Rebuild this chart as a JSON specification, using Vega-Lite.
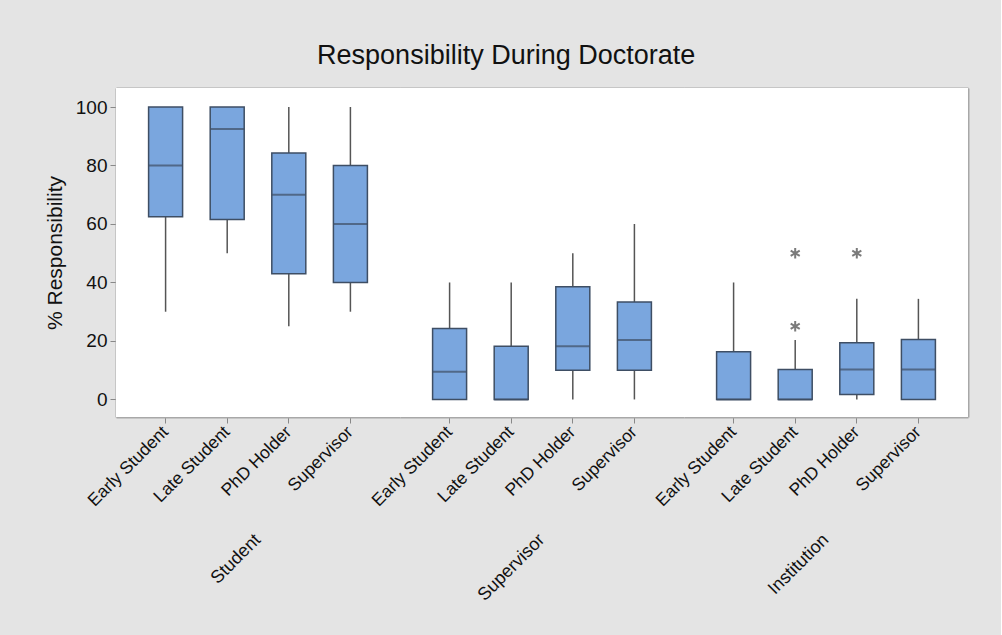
{
  "$schema": "https://vega.github.io/schema/vega-lite/v6.json",
  "background": "#e4e4e4",
  "padding": {"left": 44, "top": 42, "right": 33, "bottom": 40},
  "title": {"text": "Responsibility During Doctorate", "fontSize": 27, "font": "Liberation Sans", "fontWeight": "normal", "color": "#111111", "anchor": "middle", "frame": "bounds", "offset": 18},
  "data": {"values": [
    {"kind": "box", "group": "Student", "role": "Early Student", "lower": 30, "q1": 62.5, "median": 80, "q3": 100, "upper": 100},
    {"kind": "box", "group": "Student", "role": "Late Student", "lower": 50, "q1": 61.5, "median": 92.5, "q3": 100, "upper": 100},
    {"kind": "box", "group": "Student", "role": "PhD Holder", "lower": 25, "q1": 43, "median": 70, "q3": 84.3, "upper": 100},
    {"kind": "box", "group": "Student", "role": "Supervisor", "lower": 30, "q1": 40, "median": 60, "q3": 80, "upper": 100},
    {"kind": "box", "group": "Supervisor", "role": "Early Student", "lower": 0, "q1": 0, "median": 9.5, "q3": 24.3, "upper": 40},
    {"kind": "box", "group": "Supervisor", "role": "Late Student", "lower": 0, "q1": 0, "median": 0, "q3": 18.2, "upper": 40},
    {"kind": "box", "group": "Supervisor", "role": "PhD Holder", "lower": 0, "q1": 10, "median": 18.2, "q3": 38.5, "upper": 50},
    {"kind": "box", "group": "Supervisor", "role": "Supervisor", "lower": 0, "q1": 10, "median": 20.3, "q3": 33.3, "upper": 60},
    {"kind": "box", "group": "Institution", "role": "Early Student", "lower": 0, "q1": 0, "median": 0, "q3": 16.3, "upper": 40},
    {"kind": "box", "group": "Institution", "role": "Late Student", "lower": 0, "q1": 0, "median": 0, "q3": 10.2, "upper": 20.3},
    {"kind": "box", "group": "Institution", "role": "PhD Holder", "lower": 0, "q1": 1.7, "median": 10.2, "q3": 19.4, "upper": 34.4},
    {"kind": "box", "group": "Institution", "role": "Supervisor", "lower": 0, "q1": 0, "median": 10.2, "q3": 20.5, "upper": 34.4},
    {"kind": "outlier", "group": "Institution", "role": "Late Student", "value": 50},
    {"kind": "outlier", "group": "Institution", "role": "Late Student", "value": 25},
    {"kind": "outlier", "group": "Institution", "role": "PhD Holder", "value": 50}
  ]},
  "facet": {
    "column": {
      "field": "group", "type": "nominal",
      "sort": ["Student", "Supervisor", "Institution"],
      "header": {"title": null, "labelOrient": "bottom", "orient": "bottom", "labelAngle": -45, "labelAlign": "right", "labelBaseline": "middle", "labelFontSize": 18, "labelFont": "Liberation Sans", "labelColor": "#111111", "labelPadding": 28}
    }
  },
  "spacing": 0,
  "spec": {
    "width": 284,
    "height": 329,
    "layer": [
      {
        "transform": [{"filter": "datum.kind == 'box'"}],
        "mark": {"type": "rule", "color": "#555555", "strokeWidth": 1.5},
        "encoding": {
          "x": {"field": "role", "type": "nominal", "sort": ["Early Student", "Late Student", "PhD Holder", "Supervisor"],
                "scale": {"type": "band", "paddingInner": 0, "paddingOuter": 0.305},
                "axis": {"orient": "top", "title": null, "labels": false, "ticks": false, "domain": true, "domainColor": "#a8a8a8", "domainWidth": 2}},
          "y": {"field": "lower", "type": "quantitative",
                "scale": {"domain": [-6, 106.5], "nice": false, "zero": false},
                "axis": {"orient": "right", "title": null, "labels": false, "ticks": false, "grid": false, "domain": true, "domainColor": "#a8a8a8", "domainWidth": 2}},
          "y2": {"field": "upper"}
        }
      },
      {
        "transform": [{"filter": "datum.kind == 'box'"}],
        "mark": {"type": "bar", "size": 34, "fill": "#7aa6de", "stroke": "#3e4e64", "strokeWidth": 1.5},
        "encoding": {
          "x": {"field": "role", "type": "nominal", "sort": ["Early Student", "Late Student", "PhD Holder", "Supervisor"],
                "axis": {"orient": "bottom", "title": null, "labelAngle": -45, "labelAlign": "right", "labelBaseline": "middle", "labelFontSize": 17.5, "labelFont": "Liberation Sans", "labelColor": "#111111", "labelPadding": 6, "ticks": true, "tickSize": 6, "tickColor": "#888888", "domain": true, "domainColor": "#a8a8a8", "domainWidth": 2}},
          "y": {"field": "q1", "type": "quantitative",
                "axis": {"orient": "left", "title": "% Responsibility", "titleFontSize": 21, "titleFont": "Liberation Sans", "titleFontWeight": "normal", "titleColor": "#111111", "titlePadding": 10, "values": [0, 20, 40, 60, 80, 100], "labelFontSize": 19, "labelFont": "Liberation Sans", "labelColor": "#111111", "labelPadding": 3, "tickSize": 6, "tickColor": "#888888", "grid": false, "domain": true, "domainColor": "#a8a8a8", "domainWidth": 2}},
          "y2": {"field": "q3"}
        }
      },
      {
        "transform": [{"filter": "datum.kind == 'box'"}],
        "mark": {"type": "tick", "size": 34, "thickness": 2, "color": "#3e4e64"},
        "encoding": {
          "x": {"field": "role", "type": "nominal", "sort": ["Early Student", "Late Student", "PhD Holder", "Supervisor"], "axis": null},
          "y": {"field": "median", "type": "quantitative", "axis": null}
        }
      },
      {
        "transform": [{"filter": "datum.kind == 'outlier'"}],
        "mark": {"type": "point", "shape": "M0,-1L0,1M-0.866,-0.5L0.866,0.5M-0.866,0.5L0.866,-0.5", "filled": false, "stroke": "#444444", "strokeWidth": 2, "size": 110},
        "encoding": {
          "x": {"field": "role", "type": "nominal", "sort": ["Early Student", "Late Student", "PhD Holder", "Supervisor"], "axis": null},
          "y": {"field": "value", "type": "quantitative", "axis": null}
        }
      }
    ],
    "resolve": {"axis": {"x": "independent", "y": "independent"}}
  },
  "config": {"view": {"fill": "white", "stroke": null}}
}
